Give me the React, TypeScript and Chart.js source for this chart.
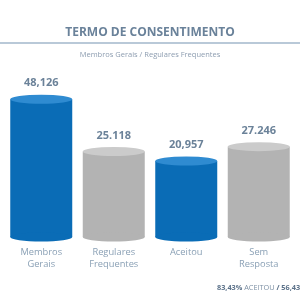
import React, { useEffect, useRef } from "react";
import { Chart, registerables } from "chart.js";

Chart.register(...registerables);

const categories: string[][] = [
  ["Membros", "Gerais"],
  ["Regulares", "Frequentes"],
  ["Aceitou"],
  ["Sem", "Resposta"],
];
const values: number[] = [48126, 25118, 20957, 27246];
const valueLabels: string[] = ["48,126", "25.118", "20,957", "27.246"];
const bodyColors: string[] = ["#0a6cb6", "#b3b3b3", "#0a6cb6", "#b3b3b3"];
const topColors: string[] = ["#2f8bd1", "#cbcbcb", "#2f8bd1", "#cbcbcb"];
const titleText = "TERMO DE CONSENTIMENTO";
const subtitleText = "Membros Gerais / Regulares Frequentes";
const footerParts: { text: string; bold: boolean }[] = [
  { text: "83,43%", bold: true },
  { text: " ACEITOU ", bold: false },
  { text: "/ 56,43", bold: true },
];

const FONT = "'Open Sans', sans-serif";

const cylinderPlugin = {
  id: "cylinders",
  afterDatasetsDraw(chart: any) {
    const ctx = chart.ctx;
    const meta = chart.getDatasetMeta(0);
    meta.data.forEach((bar: any, i: number) => {
      const { x, y, base, width } = bar.getProps(["x", "y", "base", "width"], true);
      const rx = width / 2;
      const ry = 4.5;
      ctx.save();
      ctx.fillStyle = bodyColors[i];
      ctx.beginPath();
      ctx.ellipse(x, base, rx, ry, 0, 0, Math.PI * 2);
      ctx.fill();
      ctx.fillStyle = topColors[i];
      ctx.beginPath();
      ctx.ellipse(x, y, rx, ry, 0, 0, Math.PI * 2);
      ctx.fill();
      ctx.fillStyle = "#6b8299";
      ctx.font = `bold 11px ${FONT}`;
      ctx.textAlign = "center";
      ctx.textBaseline = "middle";
      ctx.fillText(valueLabels[i], x, y - 16);
      ctx.restore();
    });
  },
};

const decorPlugin = {
  id: "decor",
  afterDraw(chart: any) {
    const ctx = chart.ctx;
    const w = chart.width;
    ctx.save();
    ctx.textAlign = "center";
    ctx.textBaseline = "middle";
    ctx.fillStyle = "#6a829a";
    ctx.font = `bold 12px ${FONT}`;
    ctx.fillText(titleText, w / 2, 33);
    ctx.strokeStyle = "#b9c9d8";
    ctx.lineWidth = 2;
    ctx.beginPath();
    ctx.moveTo(0, 43);
    ctx.lineTo(w, 43);
    ctx.stroke();
    ctx.fillStyle = "#8d9db0";
    ctx.font = `7.5px ${FONT}`;
    ctx.fillText(subtitleText, w / 2, 55);
    // footer
    ctx.textAlign = "left";
    let fx = 217;
    footerParts.forEach((p) => {
      ctx.font = `${p.bold ? "bold " : ""}7.3px ${FONT}`;
      ctx.fillStyle = p.bold ? "#5b7189" : "#7d90a4";
      ctx.fillText(p.text, fx, 288);
      fx += ctx.measureText(p.text).width;
    });
    ctx.restore();
  },
};

export default function App() {
  const ref = useRef<HTMLCanvasElement>(null);
  useEffect(() => {
    if (!ref.current) return;
    const chart = new Chart(ref.current, {
      type: "bar",
      data: {
        labels: categories,
        datasets: [
          {
            data: values,
            backgroundColor: bodyColors,
            borderWidth: 0,
            barPercentage: 0.855,
            categoryPercentage: 1,
            base: -12500,
          } as any,
        ],
      },
      options: {
        animation: false,
        responsive: false,
        layout: { padding: { top: 70, bottom: 30, left: 5, right: 5 } },
        plugins: {
          legend: { display: false },
          tooltip: { enabled: false },
          title: { display: false },
        },
        scales: {
          x: {
            grid: { display: false, drawTicks: false },
            border: { display: false },
            ticks: {
              padding: 10,
              color: "#8aa0b5",
              font: { family: FONT, size: 9.3, lineHeight: 1.22 },
              maxRotation: 0,
              autoSkip: false,
            },
            afterFit: (scale: any) => {
              scale.height = 33;
            },
          },
          y: {
            display: false,
            min: -12500,
            max: 61000,
          },
        },
      },
      plugins: [cylinderPlugin, decorPlugin],
    });
    return () => chart.destroy();
  }, []);
  return (
    <div style={{ position: "absolute", left: 0, top: 0, width: 300, height: 300, background: "#fff" }}>
      <canvas ref={ref} width={300} height={300} />
    </div>
  );
}
